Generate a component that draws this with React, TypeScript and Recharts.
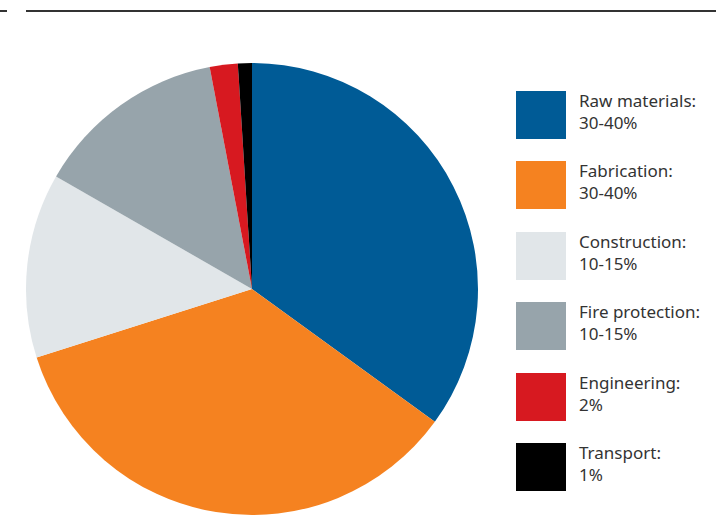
import { PieChart, Pie, Cell, Legend } from "recharts";

const categories = [
  "Raw materials",
  "Fabrication",
  "Construction",
  "Fire protection",
  "Engineering",
  "Transport",
];
const shares = [35, 35.1, 13.2, 13.7, 2, 1];
const rangeLabels = ["30-40%", "30-40%", "10-15%", "10-15%", "2%", "1%"];
const colors = ["#005b96", "#f58220", "#e1e6e9", "#97a4ab", "#d71920", "#000000"];

const data = categories.map((name, i) => ({
  name,
  value: shares[i],
  range: rangeLabels[i],
}));

function CostLegend() {
  return (
    <div>
      {data.map((d, i) => (
        <div
          key={d.name}
          style={{ display: "flex", alignItems: "flex-start", height: 70.4 }}
        >
          <div style={{ width: 50, height: 48, background: colors[i], flexShrink: 0 }} />
          <div
            style={{
              marginLeft: 13,
              marginTop: -1,
              fontFamily: "'Noto Sans', sans-serif",
              fontSize: 17,
              lineHeight: "22px",
              color: "#333",
              whiteSpace: "nowrap",
            }}
          >
            {d.name}:
            <br />
            {d.range}
          </div>
        </div>
      ))}
    </div>
  );
}

export default function App() {
  return (
    <div style={{ position: "absolute", left: 0, top: 0, width: 716, height: 523, background: "#fff" }}>
      <div style={{ position: "absolute", left: 0, top: 10, width: 7, height: 2, background: "#333" }} />
      <div style={{ position: "absolute", left: 26, top: 10, width: 690, height: 2, background: "#333" }} />
      <PieChart width={716} height={523} margin={{ top: 0, right: 0, bottom: 0, left: 0 }}>
        <Pie
          data={data}
          dataKey="value"
          nameKey="name"
          cx={252}
          cy={289}
          outerRadius={226}
          startAngle={90}
          endAngle={-270}
          stroke="none"
          isAnimationActive={false}
        >
          {data.map((d, i) => (
            <Cell key={d.name} fill={colors[i]} />
          ))}
        </Pie>
        <Legend
          content={() => <CostLegend />}
          wrapperStyle={{ position: "absolute", left: 516, top: 91, width: 200 }}
        />
      </PieChart>
    </div>
  );
}
